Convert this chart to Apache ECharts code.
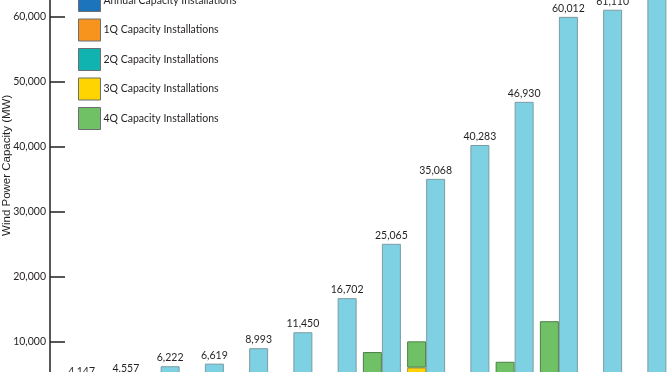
<!DOCTYPE html>
<html>
<head>
<meta charset="utf-8">
<script src="https://cdn.jsdelivr.net/npm/echarts@6/dist/echarts.min.js"></script>
<style>
html,body{margin:0;padding:0;background:#fff;overflow:hidden;width:672px;height:372px;}
#wrap{position:absolute;left:0;top:-60px;width:672px;height:500px;}
</style>
</head>
<body>
<div id="wrap"></div>
<script>
const years = ['2001','2002','2003','2004','2005','2006','2007','2008','2009','2010','2011','2012','2013','2014'];
const cumulative = [4147,4557,6222,6619,8993,11450,16702,25065,35068,40283,46930,60012,61110,65879];
const annual = [1697,410,1667,372,2396,2454,5250,null,null,null,null,null,null,null];
const q1 = [null,null,null,null,null,null,null,1400,2800,540,1100,1700,0,0];
const q2 = [null,null,null,null,null,null,null,1400,1200,1240,1200,1600,1,835];
const q3 = [null,null,null,null,null,null,null,1400,2000,395,1300,1600,0,240];
const q4 = [null,null,null,null,null,null,null,4200,4050,2940,3300,8250,1086,3779];
const yTicks = [0,10000,20000,30000,40000,50000,60000,70000];

const FONT = 'Lato';
const TXT = '#231f20';
const chart = echarts.init(document.getElementById('wrap'), null, {renderer:'canvas'});

function qSeries(name, data, color, border){
  return {name, type:'bar', stack:'annual', data, barWidth:19, barGap:'0%',
    itemStyle:{color, borderColor:border, borderWidth:1}};
}

chart.setOption({
  animation:false,
  textStyle:{fontFamily:FONT, color:TXT},
  legend:{
    orient:'vertical', left:78, top:19.5, padding:0, itemWidth:22, itemHeight:22, itemGap:6.5,
    icon:'rect',
    itemStyle:{borderColor:'#6d6e71', borderWidth:1},
    textStyle:{fontFamily:FONT, fontSize:10.5, color:TXT, padding:[0,0,0,-2]},
    data:['Cumulative Capacity','Annual Capacity Installations','1Q Capacity Installations','2Q Capacity Installations','3Q Capacity Installations','4Q Capacity Installations']
  },
  grid:{left:50, right:2.5, top:12, bottom:33.4, containLabel:false, outerBoundsMode:'none'},
  xAxis:{
    type:'category', data:years, boundaryGap:true,
    axisLine:{lineStyle:{color:TXT, width:1.5}},
    axisTick:{show:false},
    axisLabel:{fontFamily:FONT, fontSize:10, color:TXT}
  },
  yAxis:{
    type:'value', min:yTicks[0], max:yTicks[yTicks.length-1], interval:10000,
    name:'Wind Power Capacity (MW)', nameLocation:'middle', nameGap:37, nameRotate:90,
    nameMoveOverlap:false,
    nameTextStyle:{fontFamily:'Liberation Sans', fontSize:11.5, color:TXT, padding:[0,0,0,28]},
    axisLine:{show:true, lineStyle:{color:TXT, width:1.5}},
    axisTick:{show:true, inside:true, length:15, lineStyle:{color:TXT, width:1.5}},
    splitLine:{show:false},
    axisLabel:{fontFamily:FONT, fontSize:10.5, color:TXT, margin:4,
      formatter:v=>v.toLocaleString('en-US')}
  },
  series:[
    {name:'Annual Capacity Installations', type:'bar', stack:'annual', data:annual, barWidth:19, barGap:'0%',
      itemStyle:{color:'#1c75bc', borderColor:'#6d6e71', borderWidth:1}},
    qSeries('1Q Capacity Installations', q1, '#f7941d', '#8a6a40'),
    qSeries('2Q Capacity Installations', q2, '#10b3b0', '#3f7d7b'),
    qSeries('3Q Capacity Installations', q3, '#ffd400', '#b39a30'),
    qSeries('4Q Capacity Installations', q4, '#70c166', '#4c7f48'),
    {name:'Cumulative Capacity', type:'bar', stack:'cum', data:cumulative, barWidth:19, barGap:'0%',
      itemStyle:{color:'#7ed1e2', borderColor:'#7d9ca3', borderWidth:1},
      label:{show:true, position:'top', distance:3, fontFamily:FONT, fontSize:10.5, color:TXT,
        formatter:p=>p.value.toLocaleString('en-US')}}
  ]
});
</script>
</body>
</html>
